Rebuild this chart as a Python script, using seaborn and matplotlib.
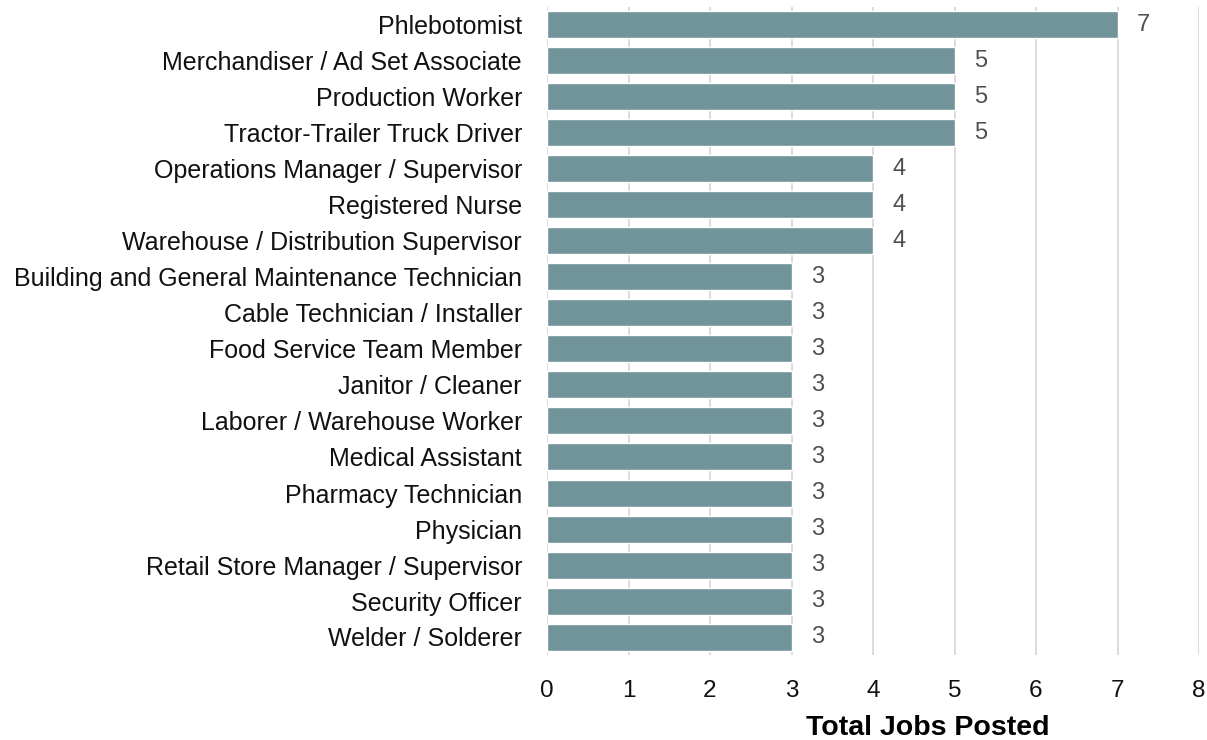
import matplotlib
matplotlib.use("Agg")
import matplotlib.pyplot as plt
import seaborn as sns
import pandas as pd

categories = [
    "Phlebotomist",
    "Merchandiser / Ad Set Associate",
    "Production Worker",
    "Tractor-Trailer Truck Driver",
    "Operations Manager / Supervisor",
    "Registered Nurse",
    "Warehouse / Distribution Supervisor",
    "Building and General Maintenance Technician",
    "Cable Technician / Installer",
    "Food Service Team Member",
    "Janitor / Cleaner",
    "Laborer / Warehouse Worker",
    "Medical Assistant",
    "Pharmacy Technician",
    "Physician",
    "Retail Store Manager / Supervisor",
    "Security Officer",
    "Welder / Solderer",
]
values = [7, 5, 5, 5, 4, 4, 4, 3, 3, 3, 3, 3, 3, 3, 3, 3, 3, 3]
x_ticks = [0, 1, 2, 3, 4, 5, 6, 7, 8]

df = pd.DataFrame({"job": categories, "count": values})

sns.set_theme(style="white")
plt.rcParams["font.family"] = ["Liberation Sans", "DejaVu Sans"]

fig = plt.figure(figsize=(12.07, 7.40), dpi=100)
ax = fig.add_axes([547 / 1207, 1 - 655 / 740, (1199 - 547) / 1207, (655 - 7) / 740])

sns.barplot(data=df, x="count", y="job", color="#71939a", saturation=1,
            width=0.75, ax=ax, orient="h")

ax.set_xlim(0, 8)
ax.set_xticks(x_ticks)
ax.set_xticklabels([str(t) for t in x_ticks], fontsize=17.5, color="#111111")
ax.tick_params(axis="x", length=0, pad=18)
ax.tick_params(axis="y", length=0, pad=18, labelsize=18, labelcolor="#111111")
ax.grid(axis="x", color="#d9d9d9", linewidth=1.3)
ax.set_axisbelow(True)
for s in ax.spines.values():
    s.set_visible(False)

for c in ax.containers:
    ax.bar_label(c, labels=[str(v) for v in values], padding=14, fontsize=17, color="#505050")

ax.set_ylabel("")
ax.set_xlabel("Total Jobs Posted", fontsize=20.5, fontweight="bold", color="#000000")
ax.xaxis.set_label_coords((928 - 547) / (1199 - 547), -0.092)

fig.savefig("out.png", dpi=100)
